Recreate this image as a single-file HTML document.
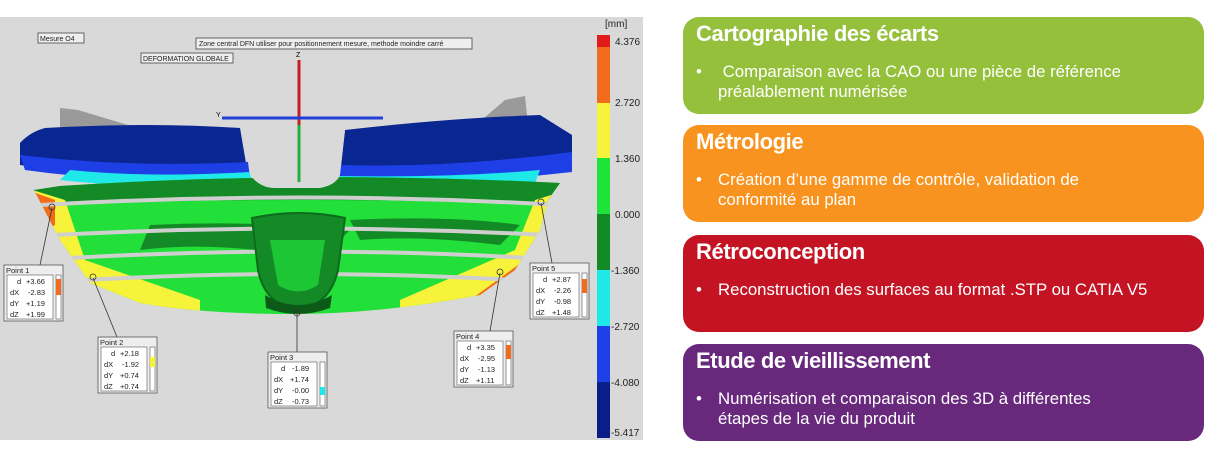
<!DOCTYPE html>
<html><head><meta charset="utf-8"><style>
html,body{margin:0;padding:0;background:#fff;}
body{width:1214px;height:450px;position:relative;overflow:hidden;font-family:"Liberation Sans",sans-serif;}
.box{position:absolute;left:683px;width:521px;border-radius:16px;color:#fff;font-family:"Liberation Sans",sans-serif;}
.box h2{margin:0;position:absolute;left:13px;top:4px;font-size:22px;font-weight:bold;letter-spacing:-0.4px;}
.box ul{margin:0;padding:0;list-style:none;position:absolute;left:13px;top:45px;width:465px;font-size:16.8px;line-height:20px;}
.box li{position:relative;padding-left:22px;}
.box li:before{content:"•";position:absolute;left:0;top:0;}
</style></head><body>
<svg width="660" height="450" style="position:absolute;left:0;top:0" font-family="Liberation Sans, sans-serif">
<defs>
<clipPath id="body"><path d="M34,190 L60,186 Q300,170 560,183 L548,200 L540,230 L515,270 L480,295 Q380,314 295,314 Q200,314 140,303 L90,283 L60,240 Z"/></clipPath>
</defs>
<rect x="0" y="17" width="643" height="423" fill="#d9d9d9"/>
<rect x="597" y="35" width="13" height="12" fill="#e31a1c"/>
<rect x="597" y="47" width="13" height="56" fill="#f26b1d"/>
<rect x="597" y="103" width="13" height="55" fill="#f7f23a"/>
<rect x="597" y="158" width="13" height="56" fill="#1fe33a"/>
<rect x="597" y="214" width="13" height="56" fill="#138a26"/>
<rect x="597" y="270" width="13" height="56" fill="#1ee8e8"/>
<rect x="597" y="326" width="13" height="56" fill="#1e3fe6"/>
<rect x="597" y="382" width="13" height="56" fill="#0a1e8a"/>
<g font-size="10" fill="#222">
<text x="605" y="27">[mm]</text>
<text x="615" y="45">4.376</text><text x="615" y="106">2.720</text><text x="615" y="162">1.360</text>
<text x="615" y="218">0.000</text><text x="611" y="274">-1.360</text><text x="611" y="330">-2.720</text>
<text x="611" y="386">-4.080</text><text x="611" y="436">-5.417</text>
</g>
<g font-size="7" fill="#222">
<rect x="38" y="33" width="46" height="10" fill="#eee" stroke="#444" stroke-width="0.8"/><text x="40" y="41">Mesure O4</text>
<rect x="196" y="38" width="276" height="11" fill="#eee" stroke="#444" stroke-width="0.8"/><text x="199" y="46">Zone central DFN utiliser pour positionnement mesure, methode moindre carré</text>
<rect x="141" y="53" width="92" height="10" fill="#eee" stroke="#444" stroke-width="0.8"/><text x="143" y="61">DEFORMATION GLOBALE</text>
</g>
<path d="M60,108 L78,110 L128,125 L60,128 Z" fill="#9a9a9a"/>
<path d="M505,100 L525,96 L528,125 L470,130 Z" fill="#9a9a9a"/>
<path d="M20,143 Q30,132 45,128 Q150,122 240,128 L248,175 Q130,180 20,165 Z" fill="#0a2690"/>
<path d="M345,130 Q450,118 540,115 L572,135 L572,170 Q450,178 340,175 Z" fill="#0a2690"/>
<path d="M20,155 Q130,168 248,162 L250,178 Q130,185 25,170 Z" fill="#1e3fe6"/>
<path d="M340,165 Q450,168 572,152 L572,172 Q450,186 338,182 Z" fill="#1e3fe6"/>
<path d="M70,170 Q150,178 250,172 L252,185 Q150,190 60,180 Z" fill="#1ee8e8"/>
<path d="M338,176 Q450,178 540,170 L535,183 Q440,190 338,190 Z" fill="#1ee8e8"/>
<g clip-path="url(#body)">
<rect x="0" y="160" width="600" height="170" fill="#22df3a"/>
<path d="M30,180 Q300,165 580,178 L580,205 Q300,195 30,205 Z" fill="#138a26"/>
<path d="M150,225 Q250,220 350,230 L320,260 Q220,240 140,250 Z" fill="#138a26"/>
<path d="M350,220 Q450,215 520,225 L500,245 Q420,235 360,240 Z" fill="#138a26"/>
<path d="M0,180 L65,200 L85,260 L200,300 L200,320 L0,320 Z" fill="#f7f23a"/>
<path d="M0,180 L55,200 L55,225 L30,240 Z" fill="#f26b1d"/>
<path d="M600,180 L535,200 L515,250 L400,300 L400,320 L600,320 Z" fill="#f7f23a"/>
<path d="M600,230 L525,260 L470,300 L600,310 Z" fill="#f26b1d"/>
<g stroke="#cfcfcf" stroke-width="4" fill="none">
<path d="M40,205 Q300,190 560,205"/>
<path d="M55,235 Q300,222 545,235"/>
<path d="M70,258 Q300,245 530,258"/>
<path d="M85,280 Q300,268 515,280"/>
</g>
</g>
<path d="M252,218 Q300,208 345,218 L338,270 Q330,305 298,310 Q265,305 258,270 Z" fill="#138a26" stroke="#0d6b1c" stroke-width="2"/>
<path d="M270,240 L325,240 L318,285 Q298,298 278,285 Z" fill="#22df3a" opacity="0.7"/>
<path d="M265,295 Q298,315 332,295 L330,308 Q298,320 266,308 Z" fill="#0d5a18"/>
<path d="M248,128 L250,175 Q260,188 275,188 L320,188 Q336,185 340,175 L345,130 Z" fill="#d9d9d9"/>
<line x1="299" y1="60" x2="299" y2="125" stroke="#c81e1e" stroke-width="3"/>
<line x1="299" y1="125" x2="299" y2="182" stroke="#22b03a" stroke-width="3"/>
<line x1="222" y1="118" x2="383" y2="118" stroke="#2040d8" stroke-width="3"/>
<text x="296" y="57" font-size="7">Z</text><text x="216" y="117" font-size="7">Y</text>
<g stroke="#333" stroke-width="0.8" fill="none">
<line x1="52" y1="208" x2="40" y2="265"/><circle cx="52" cy="207" r="3"/>
<line x1="93" y1="278" x2="117" y2="337"/><circle cx="93" cy="277" r="3"/>
<line x1="297" y1="314" x2="297" y2="352"/><circle cx="297" cy="313" r="3"/>
<line x1="500" y1="273" x2="490" y2="331"/><circle cx="500" cy="272" r="3"/>
<line x1="541" y1="203" x2="552" y2="263"/><circle cx="541" cy="202" r="3"/>
</g>
<g font-size="7.5" fill="#222">
<g transform="translate(4,265)">
<rect width="59" height="56" fill="#eee" stroke="#555" stroke-width="0.8"/><text x="2" y="8">Point 1</text>
<rect x="3" y="10" width="46" height="44" fill="#fff" stroke="#555" stroke-width="0.6"/>
<rect x="52" y="10" width="5" height="44" fill="#fff" stroke="#555" stroke-width="0.6"/><rect x="52" y="14" width="5" height="16" fill="#f26b1d"/>
<text x="13" y="19">d</text><text x="22" y="19">+3.66</text><text x="6" y="30">dX</text><text x="24" y="30">-2.83</text>
<text x="6" y="41">dY</text><text x="22" y="41">+1.19</text><text x="6" y="52">dZ</text><text x="22" y="52">+1.99</text></g>
<g transform="translate(98,337)">
<rect width="59" height="56" fill="#eee" stroke="#555" stroke-width="0.8"/><text x="2" y="8">Point 2</text>
<rect x="3" y="10" width="46" height="44" fill="#fff" stroke="#555" stroke-width="0.6"/>
<rect x="52" y="10" width="5" height="44" fill="#fff" stroke="#555" stroke-width="0.6"/><rect x="52" y="20" width="5" height="10" fill="#f7f23a"/>
<text x="13" y="19">d</text><text x="22" y="19">+2.18</text><text x="6" y="30">dX</text><text x="24" y="30">-1.92</text>
<text x="6" y="41">dY</text><text x="22" y="41">+0.74</text><text x="6" y="52">dZ</text><text x="22" y="52">+0.74</text></g>
<g transform="translate(268,352)">
<rect width="59" height="56" fill="#eee" stroke="#555" stroke-width="0.8"/><text x="2" y="8">Point 3</text>
<rect x="3" y="10" width="46" height="44" fill="#fff" stroke="#555" stroke-width="0.6"/>
<rect x="52" y="10" width="5" height="44" fill="#fff" stroke="#555" stroke-width="0.6"/><rect x="52" y="35" width="5" height="8" fill="#1ee8e8"/>
<text x="13" y="19">d</text><text x="24" y="19">-1.89</text><text x="6" y="30">dX</text><text x="22" y="30">+1.74</text>
<text x="6" y="41">dY</text><text x="24" y="41">-0.00</text><text x="6" y="52">dZ</text><text x="24" y="52">-0.73</text></g>
<g transform="translate(454,331)">
<rect width="59" height="56" fill="#eee" stroke="#555" stroke-width="0.8"/><text x="2" y="8">Point 4</text>
<rect x="3" y="10" width="46" height="44" fill="#fff" stroke="#555" stroke-width="0.6"/>
<rect x="52" y="10" width="5" height="44" fill="#fff" stroke="#555" stroke-width="0.6"/><rect x="52" y="14" width="5" height="14" fill="#f26b1d"/>
<text x="13" y="19">d</text><text x="22" y="19">+3.35</text><text x="6" y="30">dX</text><text x="24" y="30">-2.95</text>
<text x="6" y="41">dY</text><text x="24" y="41">-1.13</text><text x="6" y="52">dZ</text><text x="22" y="52">+1.11</text></g>
<g transform="translate(530,263)">
<rect width="59" height="56" fill="#eee" stroke="#555" stroke-width="0.8"/><text x="2" y="8">Point 5</text>
<rect x="3" y="10" width="46" height="44" fill="#fff" stroke="#555" stroke-width="0.6"/>
<rect x="52" y="10" width="5" height="44" fill="#fff" stroke="#555" stroke-width="0.6"/><rect x="52" y="16" width="5" height="14" fill="#f26b1d"/>
<text x="13" y="19">d</text><text x="22" y="19">+2.87</text><text x="6" y="30">dX</text><text x="24" y="30">-2.26</text>
<text x="6" y="41">dY</text><text x="24" y="41">-0.98</text><text x="6" y="52">dZ</text><text x="22" y="52">+1.48</text></g>
</g>
</svg>

<div class="box" style="top:17px;height:97px;background:#95c03b;"><h2>Cartographie des écarts</h2><ul><li>&nbsp;Comparaison avec la CAO ou une pièce de référence préalablement numérisée</li></ul></div>
<div class="box" style="top:125px;height:97px;background:#f7931e;"><h2>Métrologie</h2><ul><li>Création d’une gamme de contrôle, validation de conformité au plan</li></ul></div>
<div class="box" style="top:235px;height:97px;background:#c41424;"><h2>Rétroconception</h2><ul><li>Reconstruction des surfaces au format .STP ou CATIA V5</li></ul></div>
<div class="box" style="top:344px;height:97px;background:#68297d;"><h2>Etude de vieillissement</h2><ul style="width:440px"><li>Numérisation et comparaison des 3D à différentes étapes de la vie du produit</li></ul></div>
</body></html>
